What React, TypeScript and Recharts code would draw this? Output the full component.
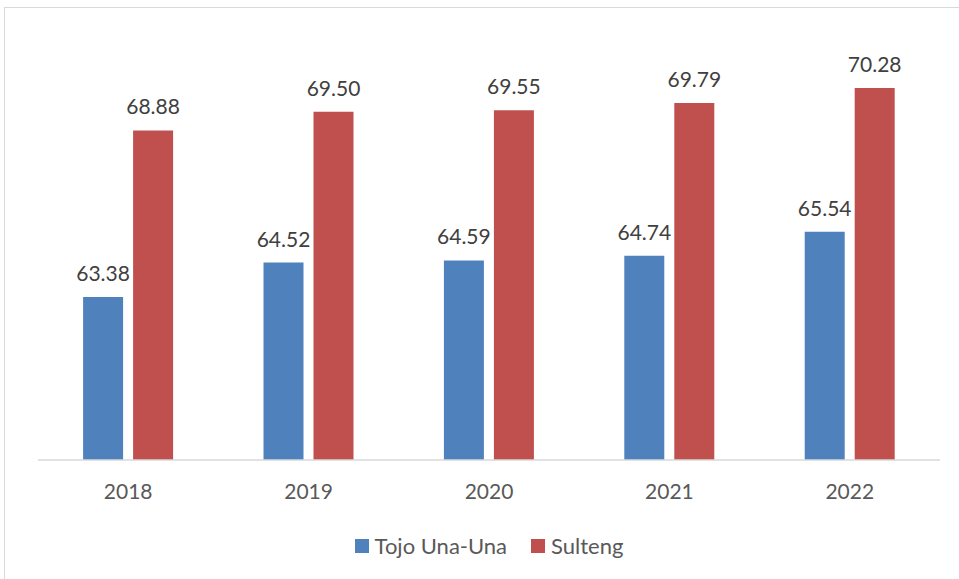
import React from "react"
import { BarChart, Bar, XAxis, YAxis, Legend, LabelList } from "recharts"

const years = ["2018", "2019", "2020", "2021", "2022"]
const tojoUnaUna = [63.38, 64.52, 64.59, 64.74, 65.54]
const sulteng = [68.88, 69.5, 69.55, 69.79, 70.28]

const data = years.map((year, i) => ({ year, tojo: tojoUnaUna[i], sulteng: sulteng[i] }))

const FONT = "Lato, 'Open Sans', sans-serif"

const LegendContent = () => (
  <div style={{ display: "flex", justifyContent: "center", alignItems: "center", gap: 24, marginTop: 12, fontFamily: FONT, fontSize: 22, color: "#595959" }}>
    <span style={{ display: "flex", alignItems: "center", gap: 6 }}>
      <span style={{ width: 14, height: 14, background: "#4F81BD", display: "inline-block" }} />
      Tojo Una-Una
    </span>
    <span style={{ display: "flex", alignItems: "center", gap: 6 }}>
      <span style={{ width: 14, height: 14, background: "#C0504D", display: "inline-block" }} />
      Sulteng
    </span>
  </div>
)

export default function App() {
  return (
    <div style={{ position: "absolute", left: 0, top: 0, width: 959, height: 579, background: "#fff", overflow: "hidden" }}>
      <div style={{ position: "absolute", left: 4, top: 7, width: 980, height: 600, border: "1px solid #d9d9d9" }} />
      <div style={{ position: "absolute", left: 0, top: 0 }}>
        <BarChart
          width={959}
          height={579}
          data={data}
          margin={{ top: 36, right: 19, left: 38, bottom: 20 }}
          barCategoryGap="25%"
          barGap={10}
        >
          <XAxis
            dataKey="year"
            axisLine={{ stroke: "#d9d9d9", strokeWidth: 1.5 }}
            tickLine={false}
            tickSize={0}
            tickMargin={24}
            height={60}
            tick={{ fill: "#595959", fontSize: 21, fontFamily: FONT }}
          />
          <YAxis hide domain={[58, 72]} />
          <Legend verticalAlign="bottom" height={39} content={<LegendContent />} />
          <Bar dataKey="tojo" fill="#4F81BD" isAnimationActive={false}>
            <LabelList dataKey="tojo" position="top" offset={16} formatter={(v: number) => v.toFixed(2)} style={{ fill: "#404040", fontSize: 21, fontFamily: FONT }} />
          </Bar>
          <Bar dataKey="sulteng" fill="#C0504D" isAnimationActive={false}>
            <LabelList dataKey="sulteng" position="top" offset={16} formatter={(v: number) => v.toFixed(2)} style={{ fill: "#404040", fontSize: 21, fontFamily: FONT }} />
          </Bar>
        </BarChart>
      </div>
    </div>
  )
}
